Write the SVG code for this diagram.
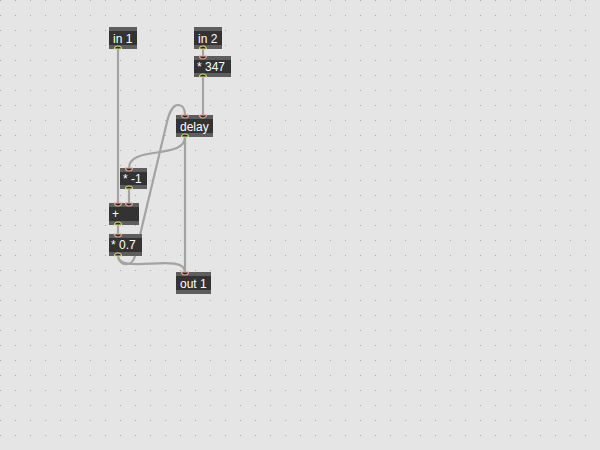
<svg xmlns="http://www.w3.org/2000/svg" width="600" height="450" viewBox="0 0 600 450">
<defs>
<pattern id="grid" width="15" height="15" patternUnits="userSpaceOnUse">
<rect x="0" y="0" width="1" height="1" fill="#a9a9a9"/>
</pattern>
<style>
.cord{fill:none;stroke:#a3a3a3;stroke-width:2.2;stroke-linecap:round;stroke-linejoin:round}
.body{fill:#333333}
.bar{fill:#5e5e5e}
.lbl{font-family:"Liberation Sans",Arial,sans-serif;font-size:12px;fill:#ffffff}
.in{fill:#2a2a2a;stroke:#e5a293;stroke-width:1.2}
.out{fill:#2a2a2a;stroke:#d6d67c;stroke-width:1.2}
</style>
</defs>
<rect width="600" height="450" fill="#e5e5e5"/>
<rect width="600" height="450" fill="url(#grid)"/>
<g id="connectors">
<path class="cord" d="M118,49 L118,203"/>
<path class="cord" d="M203,49 L203,56"/>
<path class="cord" d="M203,77 L203,115"/>
<path class="cord" d="M185,137 C185,160 129,145 129,168"/>
<path class="cord" d="M185,137 L185,272"/>
<path class="cord" d="M129,189 L129,203"/>
<path class="cord" d="M118,225 L118,234"/>
<path class="cord" d="M118,256 C118,275 185,252 185,272"/>
<path class="cord" d="M118,256 C119,266 132,268 135,256 L167,122 C169,113 173,105 178,105 C183,105 185,110 185,115"/>
</g>
<g id="in1">
<rect class="body" x="109" y="27" width="28" height="22"/>
<rect class="bar" x="109" y="27" width="28" height="4"/>
<rect class="bar" x="109" y="45" width="28" height="4"/>
<text class="lbl" x="113" y="43">in 1</text>
<path class="out" d="M114.5,49 A3.5,3 0 0 1 121.5,49 Z"/>
</g>
<g id="in2">
<rect class="body" x="194" y="27" width="28" height="22"/>
<rect class="bar" x="194" y="27" width="28" height="4"/>
<rect class="bar" x="194" y="45" width="28" height="4"/>
<text class="lbl" x="198" y="43">in 2</text>
<path class="out" d="M199.5,49 A3.5,3 0 0 1 206.5,49 Z"/>
</g>
<g id="mul347">
<rect class="body" x="194" y="56" width="37" height="21"/>
<rect class="bar" x="194" y="56" width="37" height="4"/>
<rect class="bar" x="194" y="73" width="37" height="4"/>
<text class="lbl" x="197" y="71">* 347</text>
<path class="in" d="M199.5,56 A3.5,3 0 0 0 206.5,56 Z"/>
<path class="out" d="M199.5,77 A3.5,3 0 0 1 206.5,77 Z"/>
</g>
<g id="delay">
<rect class="body" x="176" y="115" width="37" height="22"/>
<rect class="bar" x="176" y="115" width="37" height="4"/>
<rect class="bar" x="176" y="133" width="37" height="4"/>
<text class="lbl" x="180" y="131">delay</text>
<path class="in" d="M181.5,115 A3.5,3 0 0 0 188.5,115 Z"/>
<path class="in" d="M199.5,115 A3.5,3 0 0 0 206.5,115 Z"/>
<path class="out" d="M181.5,137 A3.5,3 0 0 1 188.5,137 Z"/>
</g>
<g id="mulneg1">
<rect class="body" x="120" y="168" width="27" height="21"/>
<rect class="bar" x="120" y="168" width="27" height="4"/>
<rect class="bar" x="120" y="185" width="27" height="4"/>
<text class="lbl" x="123" y="183">* -1</text>
<path class="in" d="M125.5,168 A3.5,3 0 0 0 132.5,168 Z"/>
<path class="out" d="M125.5,189 A3.5,3 0 0 1 132.5,189 Z"/>
</g>
<g id="plus">
<rect class="body" x="109" y="203" width="30" height="22"/>
<rect class="bar" x="109" y="203" width="30" height="4"/>
<rect class="bar" x="109" y="221" width="30" height="4"/>
<text class="lbl" x="112" y="218">+</text>
<path class="in" d="M114.5,203 A3.5,3 0 0 0 121.5,203 Z"/>
<path class="in" d="M125.5,203 A3.5,3 0 0 0 132.5,203 Z"/>
<path class="out" d="M114.5,225 A3.5,3 0 0 1 121.5,225 Z"/>
</g>
<g id="mul07">
<rect class="body" x="109" y="234" width="33" height="22"/>
<rect class="bar" x="109" y="234" width="33" height="4"/>
<rect class="bar" x="109" y="252" width="33" height="4"/>
<text class="lbl" x="111" y="249">* 0.7</text>
<path class="in" d="M114.5,234 A3.5,3 0 0 0 121.5,234 Z"/>
<path class="out" d="M114.5,256 A3.5,3 0 0 1 121.5,256 Z"/>
</g>
<g id="out1">
<rect class="body" x="176" y="272" width="35" height="22"/>
<rect class="bar" x="176" y="272" width="35" height="4"/>
<rect class="bar" x="176" y="290" width="35" height="4"/>
<text class="lbl" x="180" y="288">out 1</text>
<path class="in" d="M181.5,272 A3.5,3 0 0 0 188.5,272 Z"/>
</g>
</svg>
